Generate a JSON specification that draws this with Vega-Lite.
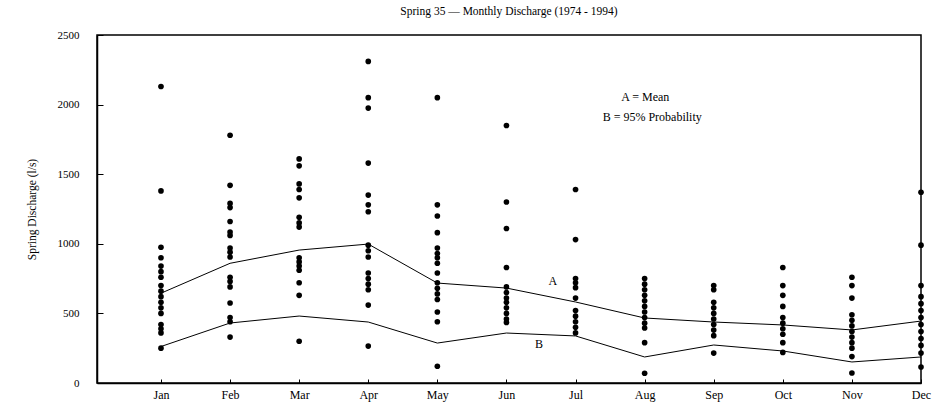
{
  "$schema": "https://vega.github.io/schema/vega-lite/v6.json",
  "autosize": "none",
  "width": 824,
  "height": 348,
  "padding": {"left": 97, "top": 35, "right": 12, "bottom": 21},
  "background": "white",
  "config": {
    "font": "Liberation Serif",
    "view": {"stroke": "black", "strokeWidth": 1.5},
    "axis": {"grid": false, "domainColor": "black", "tickColor": "black", "labelColor": "black", "titleColor": "black", "labelFont": "Liberation Serif", "titleFont": "Liberation Serif", "titleFontWeight": "normal"}
  },
  "title": {"text": "Spring 35 \u2014 Monthly Discharge (1974 - 1994)", "fontSize": 11.5, "fontWeight": "normal", "font": "Liberation Serif", "offset": 12, "color": "black"},
  "datasets": {
    "obs": [
      {"month": 1, "q": 2130}, {"month": 1, "q": 1380}, {"month": 1, "q": 975}, {"month": 1, "q": 900}, {"month": 1, "q": 840}, {"month": 1, "q": 800}, {"month": 1, "q": 760}, {"month": 1, "q": 700}, {"month": 1, "q": 660}, {"month": 1, "q": 620}, {"month": 1, "q": 580}, {"month": 1, "q": 540}, {"month": 1, "q": 500}, {"month": 1, "q": 420}, {"month": 1, "q": 390}, {"month": 1, "q": 360}, {"month": 1, "q": 250},
      {"month": 2, "q": 1780}, {"month": 2, "q": 1420}, {"month": 2, "q": 1290}, {"month": 2, "q": 1260}, {"month": 2, "q": 1160}, {"month": 2, "q": 1085}, {"month": 2, "q": 1060}, {"month": 2, "q": 970}, {"month": 2, "q": 940}, {"month": 2, "q": 905}, {"month": 2, "q": 760}, {"month": 2, "q": 730}, {"month": 2, "q": 690}, {"month": 2, "q": 575}, {"month": 2, "q": 470}, {"month": 2, "q": 440}, {"month": 2, "q": 330},
      {"month": 3, "q": 1610}, {"month": 3, "q": 1560}, {"month": 3, "q": 1430}, {"month": 3, "q": 1390}, {"month": 3, "q": 1330}, {"month": 3, "q": 1190}, {"month": 3, "q": 1150}, {"month": 3, "q": 1120}, {"month": 3, "q": 900}, {"month": 3, "q": 870}, {"month": 3, "q": 840}, {"month": 3, "q": 810}, {"month": 3, "q": 720}, {"month": 3, "q": 630}, {"month": 3, "q": 300},
      {"month": 4, "q": 2310}, {"month": 4, "q": 2050}, {"month": 4, "q": 1975}, {"month": 4, "q": 1580}, {"month": 4, "q": 1350}, {"month": 4, "q": 1280}, {"month": 4, "q": 1230}, {"month": 4, "q": 990}, {"month": 4, "q": 950}, {"month": 4, "q": 905}, {"month": 4, "q": 790}, {"month": 4, "q": 750}, {"month": 4, "q": 710}, {"month": 4, "q": 670}, {"month": 4, "q": 560}, {"month": 4, "q": 265},
      {"month": 5, "q": 2050}, {"month": 5, "q": 1280}, {"month": 5, "q": 1200}, {"month": 5, "q": 1080}, {"month": 5, "q": 970}, {"month": 5, "q": 930}, {"month": 5, "q": 900}, {"month": 5, "q": 860}, {"month": 5, "q": 790}, {"month": 5, "q": 720}, {"month": 5, "q": 680}, {"month": 5, "q": 640}, {"month": 5, "q": 600}, {"month": 5, "q": 510}, {"month": 5, "q": 440}, {"month": 5, "q": 120},
      {"month": 6, "q": 1850}, {"month": 6, "q": 1300}, {"month": 6, "q": 1110}, {"month": 6, "q": 830}, {"month": 6, "q": 690}, {"month": 6, "q": 650}, {"month": 6, "q": 610}, {"month": 6, "q": 580}, {"month": 6, "q": 540}, {"month": 6, "q": 500}, {"month": 6, "q": 460}, {"month": 6, "q": 435},
      {"month": 7, "q": 1390}, {"month": 7, "q": 1030}, {"month": 7, "q": 750}, {"month": 7, "q": 720}, {"month": 7, "q": 685}, {"month": 7, "q": 610}, {"month": 7, "q": 520}, {"month": 7, "q": 480}, {"month": 7, "q": 440}, {"month": 7, "q": 400}, {"month": 7, "q": 360},
      {"month": 8, "q": 750}, {"month": 8, "q": 710}, {"month": 8, "q": 670}, {"month": 8, "q": 630}, {"month": 8, "q": 590}, {"month": 8, "q": 550}, {"month": 8, "q": 510}, {"month": 8, "q": 470}, {"month": 8, "q": 430}, {"month": 8, "q": 395}, {"month": 8, "q": 290}, {"month": 8, "q": 70},
      {"month": 9, "q": 700}, {"month": 9, "q": 670}, {"month": 9, "q": 580}, {"month": 9, "q": 540}, {"month": 9, "q": 500}, {"month": 9, "q": 460}, {"month": 9, "q": 420}, {"month": 9, "q": 380}, {"month": 9, "q": 340}, {"month": 9, "q": 215},
      {"month": 10, "q": 830}, {"month": 10, "q": 700}, {"month": 10, "q": 630}, {"month": 10, "q": 550}, {"month": 10, "q": 470}, {"month": 10, "q": 430}, {"month": 10, "q": 390}, {"month": 10, "q": 350}, {"month": 10, "q": 290}, {"month": 10, "q": 220},
      {"month": 11, "q": 760}, {"month": 11, "q": 700}, {"month": 11, "q": 610}, {"month": 11, "q": 490}, {"month": 11, "q": 450}, {"month": 11, "q": 410}, {"month": 11, "q": 370}, {"month": 11, "q": 330}, {"month": 11, "q": 290}, {"month": 11, "q": 250}, {"month": 11, "q": 190}, {"month": 11, "q": 72},
      {"month": 12, "q": 1370}, {"month": 12, "q": 990}, {"month": 12, "q": 700}, {"month": 12, "q": 620}, {"month": 12, "q": 570}, {"month": 12, "q": 520}, {"month": 12, "q": 470}, {"month": 12, "q": 420}, {"month": 12, "q": 370}, {"month": 12, "q": 320}, {"month": 12, "q": 270}, {"month": 12, "q": 215}, {"month": 12, "q": 115}
    ],
    "curves": [
      {"month": 1, "series": "A", "q": 645}, {"month": 2, "series": "A", "q": 860}, {"month": 3, "series": "A", "q": 955}, {"month": 4, "series": "A", "q": 998}, {"month": 5, "series": "A", "q": 718}, {"month": 6, "series": "A", "q": 682}, {"month": 7, "series": "A", "q": 582}, {"month": 8, "series": "A", "q": 467}, {"month": 9, "series": "A", "q": 438}, {"month": 10, "series": "A", "q": 417}, {"month": 11, "series": "A", "q": 381}, {"month": 12, "series": "A", "q": 445},
      {"month": 1, "series": "B", "q": 262}, {"month": 2, "series": "B", "q": 431}, {"month": 3, "series": "B", "q": 481}, {"month": 4, "series": "B", "q": 438}, {"month": 5, "series": "B", "q": 287}, {"month": 6, "series": "B", "q": 359}, {"month": 7, "series": "B", "q": 338}, {"month": 8, "series": "B", "q": 187}, {"month": 9, "series": "B", "q": 273}, {"month": 10, "series": "B", "q": 230}, {"month": 11, "series": "B", "q": 151}, {"month": 12, "series": "B", "q": 187}
    ],
    "notes": [
      {"month": 6.67, "q": 733, "label": "A", "align": "center"},
      {"month": 6.47, "q": 280, "label": "B", "align": "center"},
      {"month": 8.01, "q": 2055, "label": "A = Mean", "align": "left"},
      {"month": 8.11, "q": 1911, "label": "B = 95% Probability", "align": "left"}
    ]
  },
  "layer": [
    {
      "data": {"name": "obs"},
      "mark": {"type": "circle", "size": 32, "color": "black", "opacity": 1},
      "encoding": {
        "x": {"field": "month", "type": "quantitative", "scale": {"domain": [0.074, 12], "nice": false, "zero": false},
          "axis": {"title": null, "values": [1,2,3,4,5,6,7,8,9,10,11,12], "labelExpr": "['Jan','Feb','Mar','Apr','May','Jun','Jul','Aug','Sep','Oct','Nov','Dec'][datum.value-1]", "tickSize": -4, "tickWidth": 1, "labelPadding": 10, "labelFontSize": 12, "domainWidth": 1.5, "labelFlush": false, "labelColor": "black"}},
        "y": {"field": "q", "type": "quantitative", "scale": {"domain": [0, 2500], "nice": false},
          "axis": {"title": "Spring Discharge (l/s)", "format": "d", "values": [0,500,1000,1500,2000,2500], "tickSize": -6, "tickWidth": 1, "labelPadding": 24, "labelFontSize": 11, "titleFontSize": 11.5, "titlePadding": 20, "titleColor": "black", "labelColor": "black", "domainWidth": 1.5}}
      }
    },
    {
      "data": {"name": "curves"},
      "mark": {"type": "line", "color": "black", "strokeWidth": 1},
      "encoding": {
        "x": {"field": "month", "type": "quantitative"},
        "y": {"field": "q", "type": "quantitative"},
        "detail": {"field": "series"}
      }
    },
    {
      "data": {"name": "notes"},
      "mark": {"type": "text", "fontSize": 12, "color": "black", "baseline": "middle"},
      "encoding": {
        "x": {"field": "month", "type": "quantitative"},
        "y": {"field": "q", "type": "quantitative"},
        "text": {"field": "label"},
        "align": {"field": "align", "type": "nominal", "scale": null}
      }
    }
  ]
}
